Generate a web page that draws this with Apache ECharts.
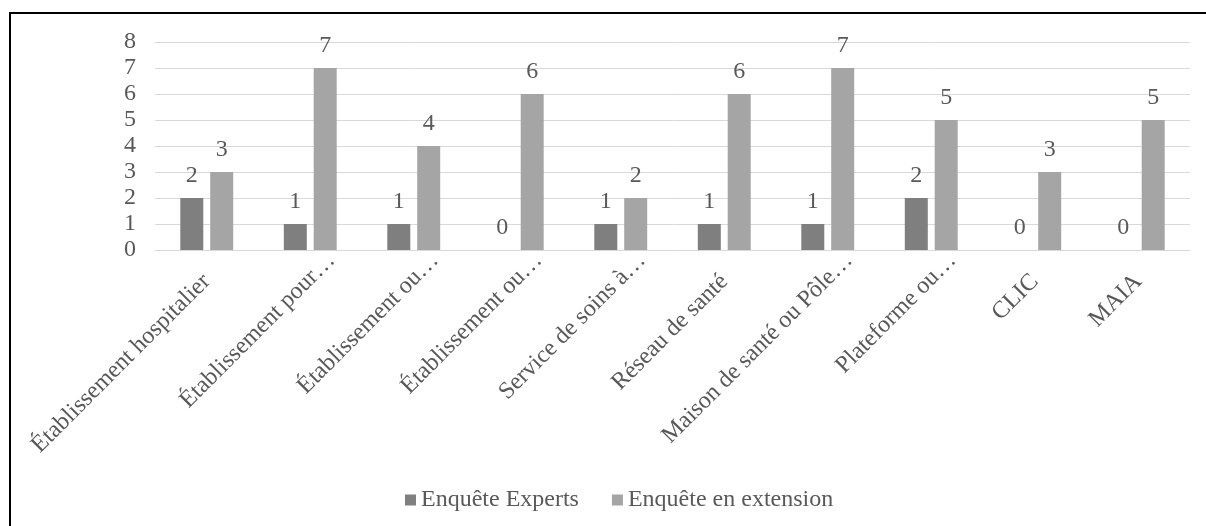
<!DOCTYPE html>
<html>
<head>
<meta charset="utf-8">
<script src="https://cdn.jsdelivr.net/npm/echarts@6/dist/echarts.min.js"></script>
<style>
html,body{margin:0;padding:0;background:#fff;}
#frame{position:absolute;left:9px;top:12px;width:1197px;height:514px;border-left:2px solid #000;border-top:2px solid #000;box-sizing:border-box;}
#chart{position:absolute;left:0;top:0;width:1206px;height:526px;}
</style>
</head>
<body>
<div id="frame"></div>
<div id="chart"></div>
<script>
const categories = ["Établissement hospitalier","Établissement pour…","Établissement ou…","Établissement ou…","Service de soins à…","Réseau de santé","Maison de santé ou Pôle…","Plateforme ou…","CLIC","MAIA"];
const seriesNames = ["Enquête Experts","Enquête en extension"];
const expertsValues = [2,1,1,0,1,1,1,2,0,0];
const extensionValues = [3,7,4,6,2,6,7,5,3,5];
const yTicks = [0,1,2,3,4,5,6,7,8];

const font = "Liberation Serif";
const textColor = "#595959";
const fs = 24;
const catData = categories.map(c => c.endsWith('…')
  ? {value:c, textStyle:{padding:[0,-30,0,0]}}
  : c);
const chart = echarts.init(document.getElementById('chart'), null, {renderer:'canvas'});
chart.setOption({
  animation:false,
  textStyle:{fontFamily:font},
  legend:{
    bottom:9, left:400,
    itemWidth:11, itemHeight:11, itemGap:33,
    icon:'rect',
    textStyle:{fontFamily:font,fontSize:fs,color:textColor},
    data:seriesNames
  },
  grid:{left:155,right:16,top:42,bottom:276,containLabel:false},
  xAxis:{
    type:'category',
    data:catData,
    axisLine:{show:true,lineStyle:{color:'#d9d9d9',width:1}},
    axisTick:{show:false},
    axisLabel:{rotate:45,interval:0,fontFamily:font,fontSize:fs,color:textColor,margin:28}
  },
  yAxis:{
    type:'value',min:yTicks[0],max:yTicks[yTicks.length-1],interval:1,
    axisLine:{show:false},axisTick:{show:false},
    splitLine:{lineStyle:{color:'#d9d9d9',width:1}},
    axisLabel:{fontFamily:font,fontSize:fs,color:textColor,margin:19}
  },
  series:[
    {name:seriesNames[0],type:'bar',data:expertsValues,barWidth:23,barGap:'30%',
     itemStyle:{color:'#7f7f7f'},
     label:{show:true,position:'top',distance:10,fontFamily:font,fontSize:fs,color:textColor}},
    {name:seriesNames[1],type:'bar',data:extensionValues,barWidth:23,barGap:'30%',
     itemStyle:{color:'#a5a5a5'},
     label:{show:true,position:'top',distance:10,fontFamily:font,fontSize:fs,color:textColor}}
  ]
});
</script>
</body>
</html>
